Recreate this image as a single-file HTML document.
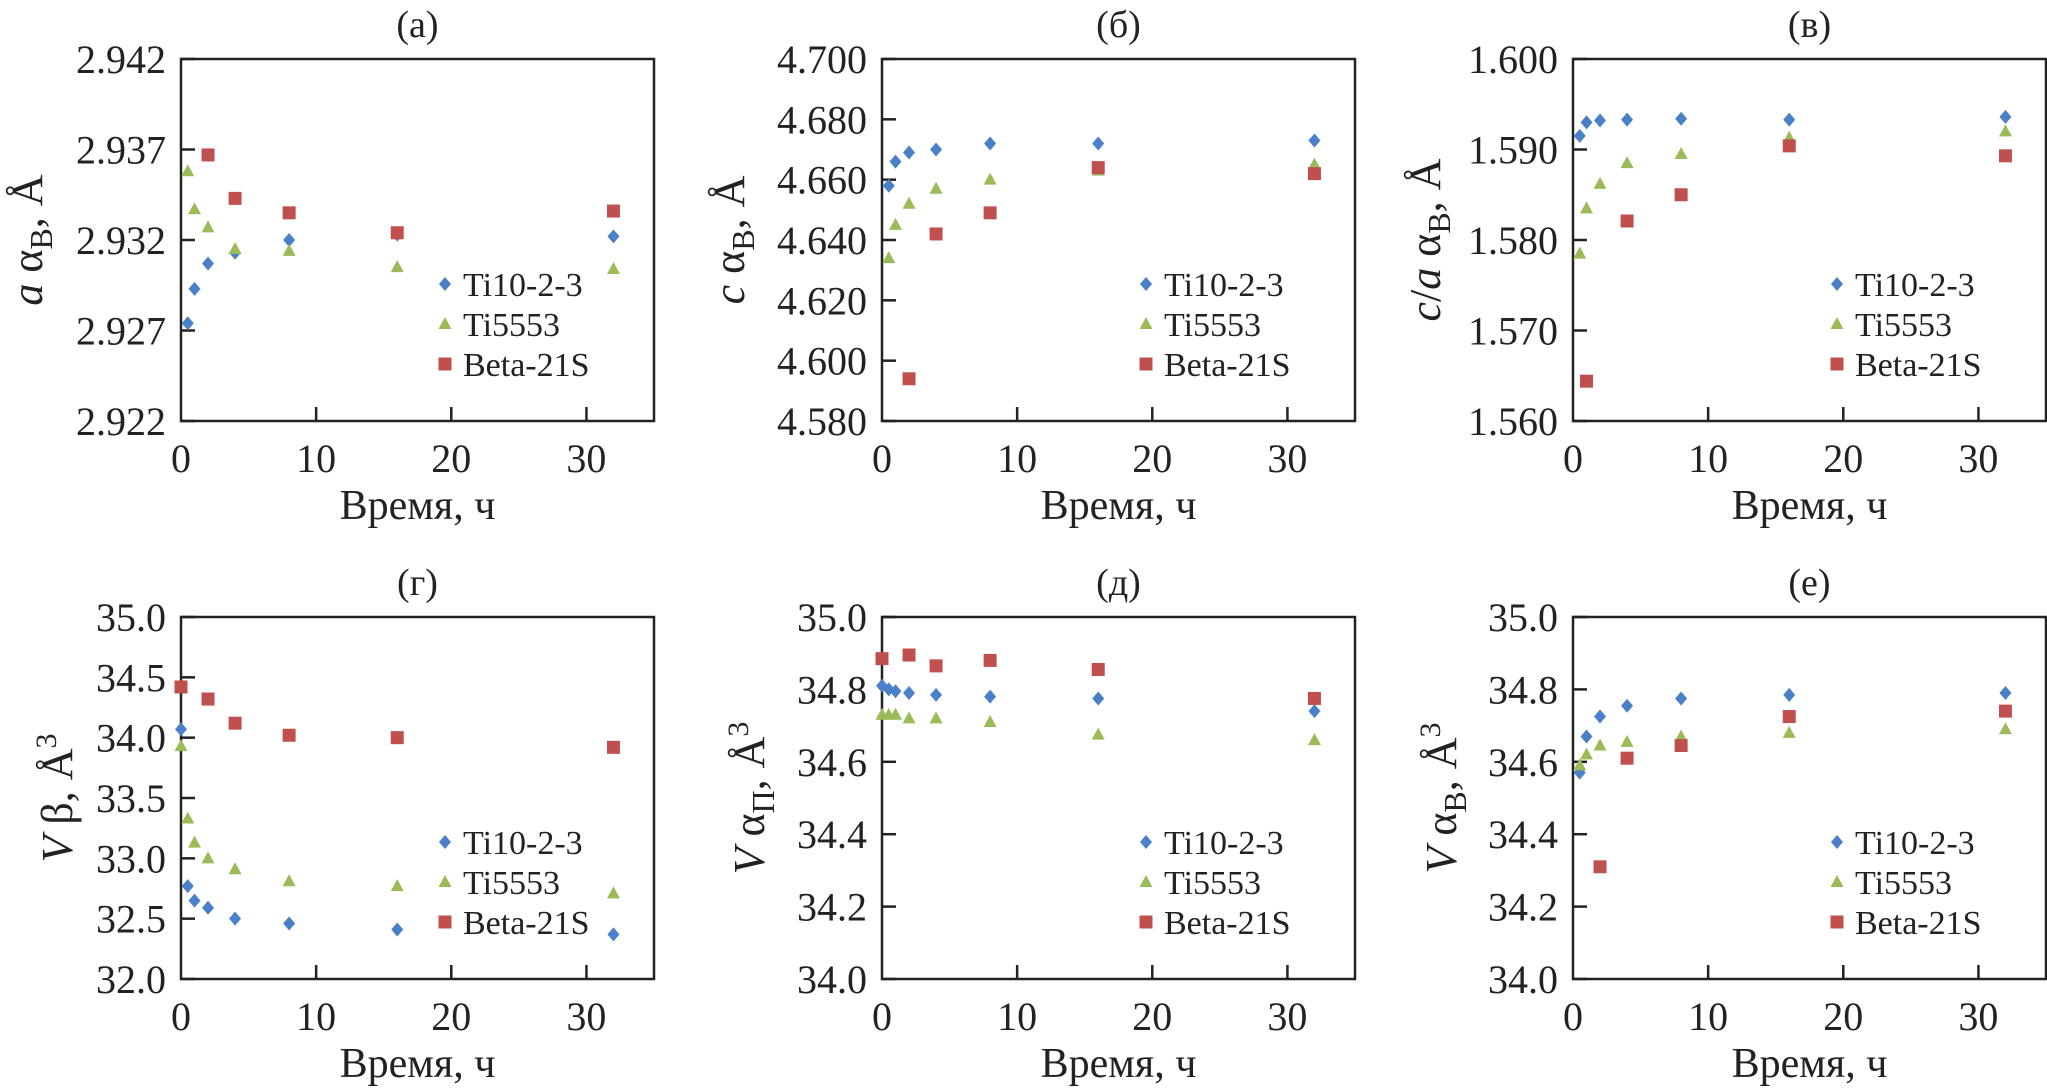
<!DOCTYPE html>
<html><head><meta charset="utf-8"><style>
html,body{margin:0;padding:0;background:#fff}
svg{display:block}
text{font-family:"Liberation Serif",serif;fill:#222}
</style></head><body>
<svg id="fig" width="2047" height="1089" viewBox="0 0 2047 1089" xmlns="http://www.w3.org/2000/svg"></svg>
<script>
const times = [0.5, 1, 2, 4, 8, 16, 32];
const timesBeta = [2, 4, 8, 16, 32];
const timesZero = [0, 0.5, 1, 2, 4, 8, 16, 32];
const timesZeroBeta = [0, 2, 4, 8, 16, 32];
const seriesNames = ["Ti10-2-3", "Ti5553", "Beta-21S"];
const xTicks = [0, 10, 20, 30];

const aTi10 = [2.9274, 2.9293, 2.9307, 2.9313, 2.9320, 2.9323, 2.9322];
const aTi5553 = [2.9358, 2.9337, 2.9327, 2.9315, 2.9314, 2.9305, 2.9304];
const aBeta = [2.9367, 2.9343, 2.9335, 2.9324, 2.9336];
const aTicks = [2.922, 2.927, 2.932, 2.937, 2.942];

const cTi10 = [4.658, 4.666, 4.669, 4.670, 4.672, 4.672, 4.673];
const cTi5553 = [4.634, 4.645, 4.652, 4.657, 4.660, 4.663, 4.665];
const cBeta = [4.594, 4.642, 4.649, 4.664, 4.662];
const cTicks = [4.580, 4.600, 4.620, 4.640, 4.660, 4.680, 4.700];

const caTimesBeta = [1, 4, 8, 16, 32];
const caTi10 = [1.5915, 1.5930, 1.5932, 1.5933, 1.5934, 1.5933, 1.5936];
const caTi5553 = [1.5785, 1.5835, 1.5862, 1.5885, 1.5895, 1.5913, 1.5920];
const caBeta = [1.5644, 1.5821, 1.5850, 1.5904, 1.5893];
const caTicks = [1.560, 1.570, 1.580, 1.590, 1.600];

const vbTi10 = [34.07, 32.77, 32.65, 32.59, 32.50, 32.46, 32.41, 32.37];
const vbTi5553 = [33.93, 33.33, 33.13, 33.00, 32.91, 32.81, 32.77, 32.71];
const vbBeta = [34.42, 34.32, 34.12, 34.02, 34.00, 33.92];
const vbTicks = [32.0, 32.5, 33.0, 33.5, 34.0, 34.5, 35.0];

const vpTi10 = [34.81, 34.80, 34.795, 34.79, 34.785, 34.78, 34.775, 34.74];
const vpTi5553 = [34.73, 34.73, 34.73, 34.72, 34.72, 34.71, 34.675, 34.66];
const vpBeta = [34.885, 34.895, 34.865, 34.88, 34.855, 34.775];
const vTicks = [34.0, 34.2, 34.4, 34.6, 34.8, 35.0];

const vaTi10 = [34.57, 34.67, 34.725, 34.755, 34.775, 34.785, 34.79];
const vaTi5553 = [34.59, 34.62, 34.645, 34.655, 34.67, 34.68, 34.69];
const vaBeta = [34.31, 34.61, 34.645, 34.725, 34.74];

const NS = "http://www.w3.org/2000/svg";
const svg = document.getElementById("fig");
const COLORS = ["#4a80c8", "#9bbb59", "#c0504d"];
function mk(tag, attrs, parent) {
  const e = document.createElementNS(NS, tag);
  for (const k in attrs) e.setAttribute(k, attrs[k]);
  (parent || svg).appendChild(e);
  return e;
}
function marker(g, kind, cx, cy) {
  let e;
  if (kind === 0) e = mk("polygon", {points: `${cx},${cy-7} ${cx+6},${cy} ${cx},${cy+7} ${cx-6},${cy}`, fill: COLORS[0]}, g);
  else if (kind === 1) e = mk("polygon", {points: `${cx},${cy-7} ${cx+6.5},${cy+5} ${cx-6.5},${cy+5}`, fill: COLORS[1]}, g);
  else e = mk("rect", {x: cx-6.5, y: cy-6.5, width: 13, height: 13, fill: COLORS[2]}, g);
  return e;
}
function panel(p) {
  const g = mk("g", {});
  
  
  const L = p.left, R = p.left + 473, T = p.top, B = p.top + 362;
  const x = v => L + (v / 35) * (R - L);
  const y = v => B - (v - p.ymin) / (p.ymax - p.ymin) * (B - T);
  const frame = mk("rect", {x: L, y: T, width: R - L, height: B - T, fill: "none", stroke: "#222", "stroke-width": 2.5}, g);
  
  
  p.yticks.forEach(v => {
    mk("line", {x1: L, x2: L + 14, y1: y(v), y2: y(v), stroke: "#222", "stroke-width": 2.5}, g);
    const t = mk("text", {x: L - 15, y: y(v) + 14, "text-anchor": "end", "font-size": 40}, g);
    t.textContent = v.toFixed(p.dec);
    
    
  });
  xTicks.forEach(v => {
    if (v > 0) mk("line", {x1: x(v), x2: x(v), y1: B, y2: B - 14, stroke: "#222", "stroke-width": 2.5}, g);
    const t = mk("text", {x: x(v), y: B + 51, "text-anchor": "middle", "font-size": 40}, g);
    t.textContent = v;
    
    
  });
  const xt = mk("text", {x: (L + R) / 2, y: B + 98, "text-anchor": "middle", "font-size": 42}, g);
  xt.textContent = "Время, ч";
  
  
  const tt = mk("text", {x: (L + R) / 2, y: T - 22, "text-anchor": "middle", "font-size": 38}, g);
  tt.textContent = p.title;
  
  
  const yt = mk("text", {transform: `translate(${p.ylx},${(T + B) / 2}) rotate(-90)`, "text-anchor": "middle", "font-size": 44}, g);
  yt.innerHTML = p.ylabel;
  
  
  p.series.forEach((s, k) => {
    s.ys.forEach((v, i) => {
      const m = marker(g, k, x(s.xs[i]), y(v));
      
      
    });
  });
  seriesNames.forEach((n, k) => {
    const ly = T + 225 + k * 40;
    const m = marker(g, k, L + 264, ly);
    
    
    const lt = mk("text", {x: L + 282, y: ly + 12, "font-size": 34}, g);
    lt.textContent = n;
    
    
  });
}
const sub = (t) => `<tspan dy="10" font-size="32">${t}</tspan><tspan dy="-10">`;
panel({name: "panel-a", title: "(a)", left: 181, top: 59, ymin: 2.922, ymax: 2.942, yticks: aTicks, dec: 3, ylx: 42,
  ylabel: `<tspan font-style="italic">a</tspan> α${sub("В")}, Å</tspan>`,
  series: [{xs: times, ys: aTi10}, {xs: times, ys: aTi5553}, {xs: timesBeta, ys: aBeta}]});
panel({name: "panel-b", title: "(б)", left: 882, top: 59, ymin: 4.58, ymax: 4.70, yticks: cTicks, dec: 3, ylx: 744,
  ylabel: `<tspan font-style="italic">c</tspan> α${sub("В")}, Å</tspan>`,
  series: [{xs: times, ys: cTi10}, {xs: times, ys: cTi5553}, {xs: timesBeta, ys: cBeta}]});
panel({name: "panel-c", title: "(в)", left: 1573, top: 59, ymin: 1.56, ymax: 1.60, yticks: caTicks, dec: 3, ylx: 1440,
  ylabel: `<tspan font-style="italic">c</tspan>/<tspan font-style="italic">a</tspan> α${sub("В")}, Å</tspan>`,
  series: [{xs: times, ys: caTi10}, {xs: times, ys: caTi5553}, {xs: caTimesBeta, ys: caBeta}]});
panel({name: "panel-g", title: "(г)", left: 181, top: 617, ymin: 32, ymax: 35, yticks: vbTicks, dec: 1, ylx: 72,
  ylabel: `<tspan font-style="italic">V</tspan> β, Å<tspan dy="-16" font-size="30">3</tspan>`,
  series: [{xs: timesZero, ys: vbTi10}, {xs: timesZero, ys: vbTi5553}, {xs: timesZeroBeta, ys: vbBeta}]});
panel({name: "panel-d", title: "(д)", left: 882, top: 617, ymin: 34, ymax: 35, yticks: vTicks, dec: 1, ylx: 764,
  ylabel: `<tspan font-style="italic">V</tspan> α${sub("П")}, Å<tspan dy="-16" font-size="30">3</tspan></tspan>`,
  series: [{xs: timesZero, ys: vpTi10}, {xs: timesZero, ys: vpTi5553}, {xs: timesZeroBeta, ys: vpBeta}]});
panel({name: "panel-e", title: "(е)", left: 1573, top: 617, ymin: 34, ymax: 35, yticks: vTicks, dec: 1, ylx: 1456,
  ylabel: `<tspan font-style="italic">V</tspan> α${sub("В")}, Å<tspan dy="-16" font-size="30">3</tspan></tspan>`,
  series: [{xs: times, ys: vaTi10}, {xs: times, ys: vaTi5553}, {xs: timesBeta, ys: vaBeta}]});
</script>
</body></html>
